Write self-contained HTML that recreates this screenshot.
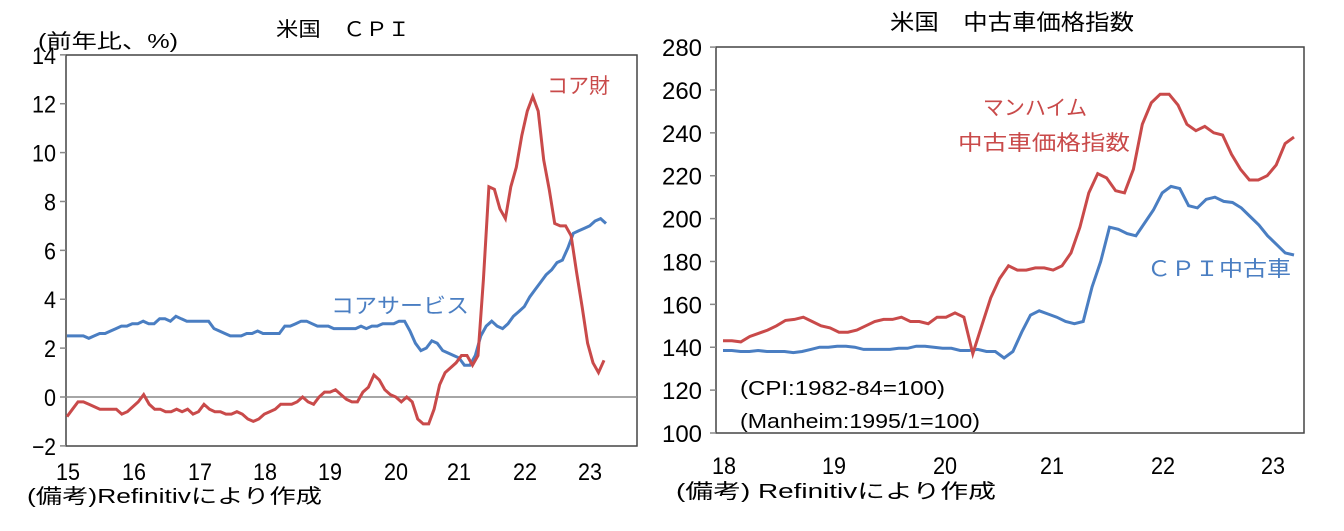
<!DOCTYPE html>
<html><head><meta charset="utf-8">
<style>
html,body{margin:0;padding:0;background:#fff;}
svg{display:block;font-family:"Liberation Sans","Noto Sans CJK JP",sans-serif;}
.t{font-size:20px;fill:#000;}
.n{font-size:24px;fill:#000;}
</style></head>
<body>
<svg id="s" width="1344" height="531" viewBox="0 0 1344 531" xmlns="http://www.w3.org/2000/svg">
<rect width="1344" height="531" fill="#fff"/>
<!-- LEFT CHART -->
<text class="t" x="343" y="36" text-anchor="middle" textLength="134" lengthAdjust="spacingAndGlyphs">米国　ＣＰＩ</text>
<text class="t" x="38" y="48" textLength="140" lengthAdjust="spacingAndGlyphs">(前年比、%)</text>
<rect x="66" y="55" width="571" height="391" fill="none" stroke="#444" stroke-width="1.5"/>
<line x1="66" y1="397" x2="637" y2="397" stroke="#888" stroke-width="1.5"/>
<g id="ly"></g>
<g id="lx"></g>
<path id="lb" fill="none" stroke="#4a7ec2" stroke-width="3"/>
<path id="lr" fill="none" stroke="#c94a4a" stroke-width="3"/>
<text x="547" y="93" font-size="21" fill="#c94a4a">コア財</text>
<text x="331" y="313" font-size="21" fill="#4a7ec2" textLength="138" lengthAdjust="spacingAndGlyphs">コアサービス</text>
<text class="t" x="27" y="503" textLength="295" lengthAdjust="spacingAndGlyphs">(備考)Refinitivにより作成</text>

<!-- RIGHT CHART -->
<text x="1012" y="30" font-size="22" text-anchor="middle" textLength="244" lengthAdjust="spacingAndGlyphs">米国　中古車価格指数</text>
<rect x="716" y="47" width="588" height="386" fill="none" stroke="#444" stroke-width="1.5"/>
<g id="ry"></g>
<g id="rx"></g>
<path id="rb" fill="none" stroke="#4a7ec2" stroke-width="3"/>
<path id="rr" fill="none" stroke="#c94a4a" stroke-width="3"/>
<text x="1035" y="115" font-size="21" fill="#c94a4a" text-anchor="middle">マンハイム</text>
<text x="958" y="150" font-size="21" fill="#c94a4a" textLength="172" lengthAdjust="spacingAndGlyphs">中古車価格指数</text>
<text x="1147" y="276" font-size="21" fill="#4a7ec2" textLength="144" lengthAdjust="spacingAndGlyphs">ＣＰＩ中古車</text>
<text class="t" x="740" y="395" textLength="205" lengthAdjust="spacingAndGlyphs">(CPI:1982-84=100)</text>
<text class="t" x="740" y="428" textLength="240" lengthAdjust="spacingAndGlyphs">(Manheim:1995/1=100)</text>
<text class="t" x="676" y="498" textLength="320" lengthAdjust="spacingAndGlyphs">(備考) Refinitivにより作成</text>
</svg>
<script>
var NS="http://www.w3.org/2000/svg";
function txt(g,x,y,s,anchor,w){var t=document.createElementNS(NS,"text");t.setAttribute("x",x);t.setAttribute("y",y);t.setAttribute("class","n");if(anchor)t.setAttribute("text-anchor",anchor);if(w){t.setAttribute("textLength",w);t.setAttribute("lengthAdjust","spacingAndGlyphs");}t.textContent=s;g.appendChild(t);}
function ln(g,x1,y1,x2,y2){var l=document.createElementNS(NS,"line");l.setAttribute("x1",x1);l.setAttribute("y1",y1);l.setAttribute("x2",x2);l.setAttribute("y2",y2);l.setAttribute("stroke","#888");l.setAttribute("stroke-width","1.5");g.appendChild(l);}
var ly=document.getElementById("ly");
for(var v=-2;v<=14;v+=2){var y=397-v*24.44;ln(ly,60,y,66,y);var s=v<0?"−2":""+v;txt(ly,56,y+9,s,"end",v>=10||v<0?24:12);}
var lx=document.getElementById("lx");
var lxs=[68,134,200,265,330,396,459,525,590];
for(var i=0;i<9;i++){txt(lx,lxs[i],480,""+(15+i),"middle",24);}
var red=[-0.8,-0.5,-0.2,-0.2,-0.3,-0.4,-0.5,-0.5,-0.5,-0.5,-0.7,-0.6,
-0.4,-0.2,0.1,-0.3,-0.5,-0.5,-0.6,-0.6,-0.5,-0.6,-0.5,-0.7,
-0.6,-0.3,-0.5,-0.6,-0.6,-0.7,-0.7,-0.6,-0.7,-0.9,-1.0,-0.9,
-0.7,-0.6,-0.5,-0.3,-0.3,-0.3,-0.2,0.0,-0.2,-0.3,0.0,0.2,
0.2,0.3,0.1,-0.1,-0.2,-0.2,0.2,0.4,0.9,0.7,0.3,0.1,
0.0,-0.2,0.0,-0.2,-0.9,-1.1,-1.1,-0.5,0.5,1.0,1.2,1.4,
1.7,1.7,1.3,1.7,4.8,8.6,8.5,7.7,7.3,8.6,9.4,10.7,
11.7,12.3,11.7,9.7,8.5,7.1,7.0,7.0,6.6,5.1,3.7,2.2,
1.4,1.0,1.5];
var blue=[2.5,2.5,2.5,2.5,2.4,2.5,2.6,2.6,2.7,2.8,2.9,2.9,
3.0,3.0,3.1,3.0,3.0,3.2,3.2,3.1,3.3,3.2,3.1,3.1,
3.1,3.1,3.1,2.8,2.7,2.6,2.5,2.5,2.5,2.6,2.6,2.7,
2.6,2.6,2.6,2.6,2.9,2.9,3.0,3.1,3.1,3.0,2.9,2.9,
2.9,2.8,2.8,2.8,2.8,2.8,2.9,2.8,2.9,2.9,3.0,3.0,
3.0,3.1,3.1,2.7,2.2,1.9,2.0,2.3,2.2,1.9,1.8,1.7,
1.6,1.3,1.3,1.7,2.5,2.9,3.1,2.9,2.8,3.0,3.3,3.5,
3.7,4.1,4.4,4.7,5.0,5.2,5.5,5.6,6.1,6.7,6.8,6.9,
7.0,7.2,7.3,7.1];
function path(arr,x0,x1,f){var d="";var n=arr.length;for(var i=0;i<n;i++){var x=x0+(x1-x0)*i/(n-1);d+=(i?"L":"M")+x.toFixed(1)+","+f(arr[i]).toFixed(1);}return d;}
document.getElementById("lr").setAttribute("d",path(red,67,604,function(v){return 397-v*24.44;}));
document.getElementById("lb").setAttribute("d",path(blue,67,606,function(v){return 397-v*24.44;}));
var ry=document.getElementById("ry");
for(var v=100;v<=280;v+=20){var y=433-(v-100)*2.144;ln(ry,710,y,716,y);txt(ry,662,y+9,""+v,null,40);}
var rx=document.getElementById("rx");
var rxs=[724,834,945,1052,1163,1273];
for(var i=0;i<6;i++){txt(rx,rxs[i],474,""+(18+i),"middle",24);}
var mh=[143,143,142.5,145,146.5,148,150,152.5,153,154,152,150,
149,147,147,148,150,152,153,153,154,152,152,151,
154,154,156,154,137,150,163,172,178,176,176,177,
177,176,178,184,196,212,221,219,213,212,223,244,
254,258,258,253,244,241,243,240,239,230,223,218,
218,220,225,235,238];
var cpi=[138.5,138.5,138,138,138.5,138,138,138,137.5,138,139,140,
140,140.5,140.5,140,139,139,139,139,139.5,139.5,140.5,140.5,
140,139.5,139.5,138.5,138.5,139,138,138,135,138,147,155,
157,155.5,154,152,151,152,168,180,196,195,193,192,
198,204,212,215,214,206,205,209,210,208,207.5,205,
201,197,192,188,184,183];
var fy=function(v){return 433-(v-100)*2.144;};
document.getElementById("rr").setAttribute("d",path(mh,723,1294,fy));
document.getElementById("rb").setAttribute("d",path(cpi,723,1294,fy));
</script>
</body></html>
